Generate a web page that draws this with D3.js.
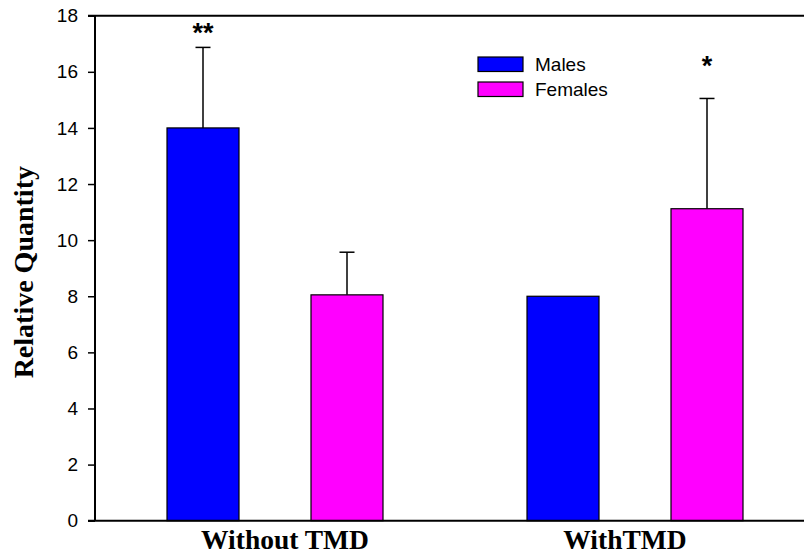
<!DOCTYPE html>
<html>
<head>
<meta charset="utf-8">
<script src="https://cdn.jsdelivr.net/npm/d3@7"></script>
<style>
body { margin: 0; background: #fff; }
svg { display: block; }
.tick text { font-family: Arial, "Liberation Sans", sans-serif; font-size: 19px; fill: #000; }
</style>
</head>
<body>
<svg id="chart" width="804" height="555"></svg>
<script>
// data
var groups = ["Without TMD", "WithTMD"];
var seriesNames = ["Males", "Females"];
var seriesColors = ["#0000ff", "#ff00ff"];
var means = [[14.0, 8.05], [8.0, 11.12]];
var errors = [[2.87, 1.52], [0, 3.93]];
var stars = [["**", ""], ["", "*"]];
var starValues = [[17.05, 0], [0, 15.9]];
var yTicks = [0, 2, 4, 6, 8, 10, 12, 14, 16, 18];

var svg = d3.select("#chart");
var margin = { left: 95, top: 15.7, right: -11, bottom: 34.3 };
var width = 804 - margin.left - margin.right;
var height = 555 - margin.top - margin.bottom;

var x0 = d3.scaleBand().domain(groups).range([margin.left, margin.left + width]).padding(0);
var x1 = d3.scaleBand().domain(seriesNames).range([0, x0.bandwidth()])
	.paddingInner(0.5).paddingOuter(0.5);
var y = d3.scaleLinear().domain([0, 18]).range([margin.top + height, margin.top]);

// bars
var rows = [];
groups.forEach(function(g, gi) {
	seriesNames.forEach(function(s, si) {
		rows.push({ group: g, series: s, si: si, value: means[gi][si], err: errors[gi][si],
			star: stars[gi][si], starValue: starValues[gi][si] });
	});
});

var bar = svg.selectAll("g.bar").data(rows).enter().append("g")
	.attr("class", "bar")
	.attr("transform", function(d) { return "translate(" + (x0(d.group) + x1(d.series)) + ",0)"; });

bar.filter(function(d) { return d.err > 0; }).each(function(d) {
	var g = d3.select(this);
	var cx = x1.bandwidth() / 2;
	g.append("line").attr("x1", cx).attr("x2", cx)
		.attr("y1", y(d.value)).attr("y2", y(d.value + d.err))
		.attr("stroke", "#000").attr("stroke-width", 1.5);
	g.append("line").attr("x1", cx - 7.5).attr("x2", cx + 7.5)
		.attr("y1", y(d.value + d.err)).attr("y2", y(d.value + d.err))
		.attr("stroke", "#000").attr("stroke-width", 1.5);
});

bar.append("rect")
	.attr("x", 0)
	.attr("y", function(d) { return y(d.value); })
	.attr("width", x1.bandwidth())
	.attr("height", function(d) { return y(0) - y(d.value); })
	.attr("fill", function(d) { return seriesColors[d.si]; })
	.attr("stroke", "#000").attr("stroke-width", 1.2);

bar.filter(function(d) { return d.star; }).append("text")
	.attr("x", x1.bandwidth() / 2)
	.attr("y", function(d) { return y(d.starValue); })
	.attr("text-anchor", "middle")
	.style("font-family", "Arial, 'Liberation Sans', sans-serif")
	.style("font-weight", "bold")
	.style("font-size", "27px")
	.text(function(d) { return d.star; });

// axes
var yAxis = d3.axisLeft(y).tickValues(yTicks).tickSize(7).tickPadding(10);
var gy = svg.append("g").attr("transform", "translate(" + margin.left + ",0)").call(yAxis);
gy.select(".domain").remove();
gy.selectAll(".tick line").attr("stroke", "#000").attr("stroke-width", 1.5);

svg.append("line").attr("x1", margin.left).attr("x2", margin.left)
	.attr("y1", y(18)).attr("y2", y(0)).attr("stroke", "#000").attr("stroke-width", 2);
svg.append("line").attr("x1", margin.left - 7).attr("x2", margin.left + width)
	.attr("y1", y(18)).attr("y2", y(18)).attr("stroke", "#000").attr("stroke-width", 2);
svg.append("line").attr("x1", margin.left - 7).attr("x2", margin.left + width)
	.attr("y1", y(0)).attr("y2", y(0)).attr("stroke", "#000").attr("stroke-width", 2);

// category labels (the original sits them a little toward the middle)
var labelShift = [10, -10];
svg.selectAll("text.xlab").data(groups).enter().append("text")
	.attr("class", "xlab")
	.attr("x", function(d, i) { return x0(d) + x0.bandwidth() / 2 + labelShift[i]; })
	.attr("y", 549)
	.attr("text-anchor", "middle")
	.style("font-family", "'Liberation Serif', 'Times New Roman', serif")
	.style("font-weight", "bold")
	.style("font-size", "27.5px")
	.text(function(d) { return d; });

svg.append("text")
	.attr("transform", "translate(33," + (margin.top + height / 2 + 4) + ") rotate(-90)")
	.attr("text-anchor", "middle")
	.style("font-family", "'Liberation Serif', 'Times New Roman', serif")
	.style("font-weight", "bold")
	.style("font-size", "28px")
	.text("Relative Quantity");

// legend
var legend = svg.selectAll("g.legend").data(seriesNames).enter().append("g")
	.attr("class", "legend")
	.attr("transform", function(d, i) { return "translate(478," + (57 + i * 25) + ")"; });
legend.append("rect").attr("width", 45).attr("height", 14.5)
	.attr("fill", function(d, i) { return seriesColors[i]; })
	.attr("stroke", "#000").attr("stroke-width", 1.2);
legend.append("text").attr("x", 57).attr("y", 14)
	.style("font-family", "Arial, 'Liberation Sans', sans-serif")
	.style("font-size", "19px")
	.text(function(d) { return d; });
</script>
</body>
</html>
